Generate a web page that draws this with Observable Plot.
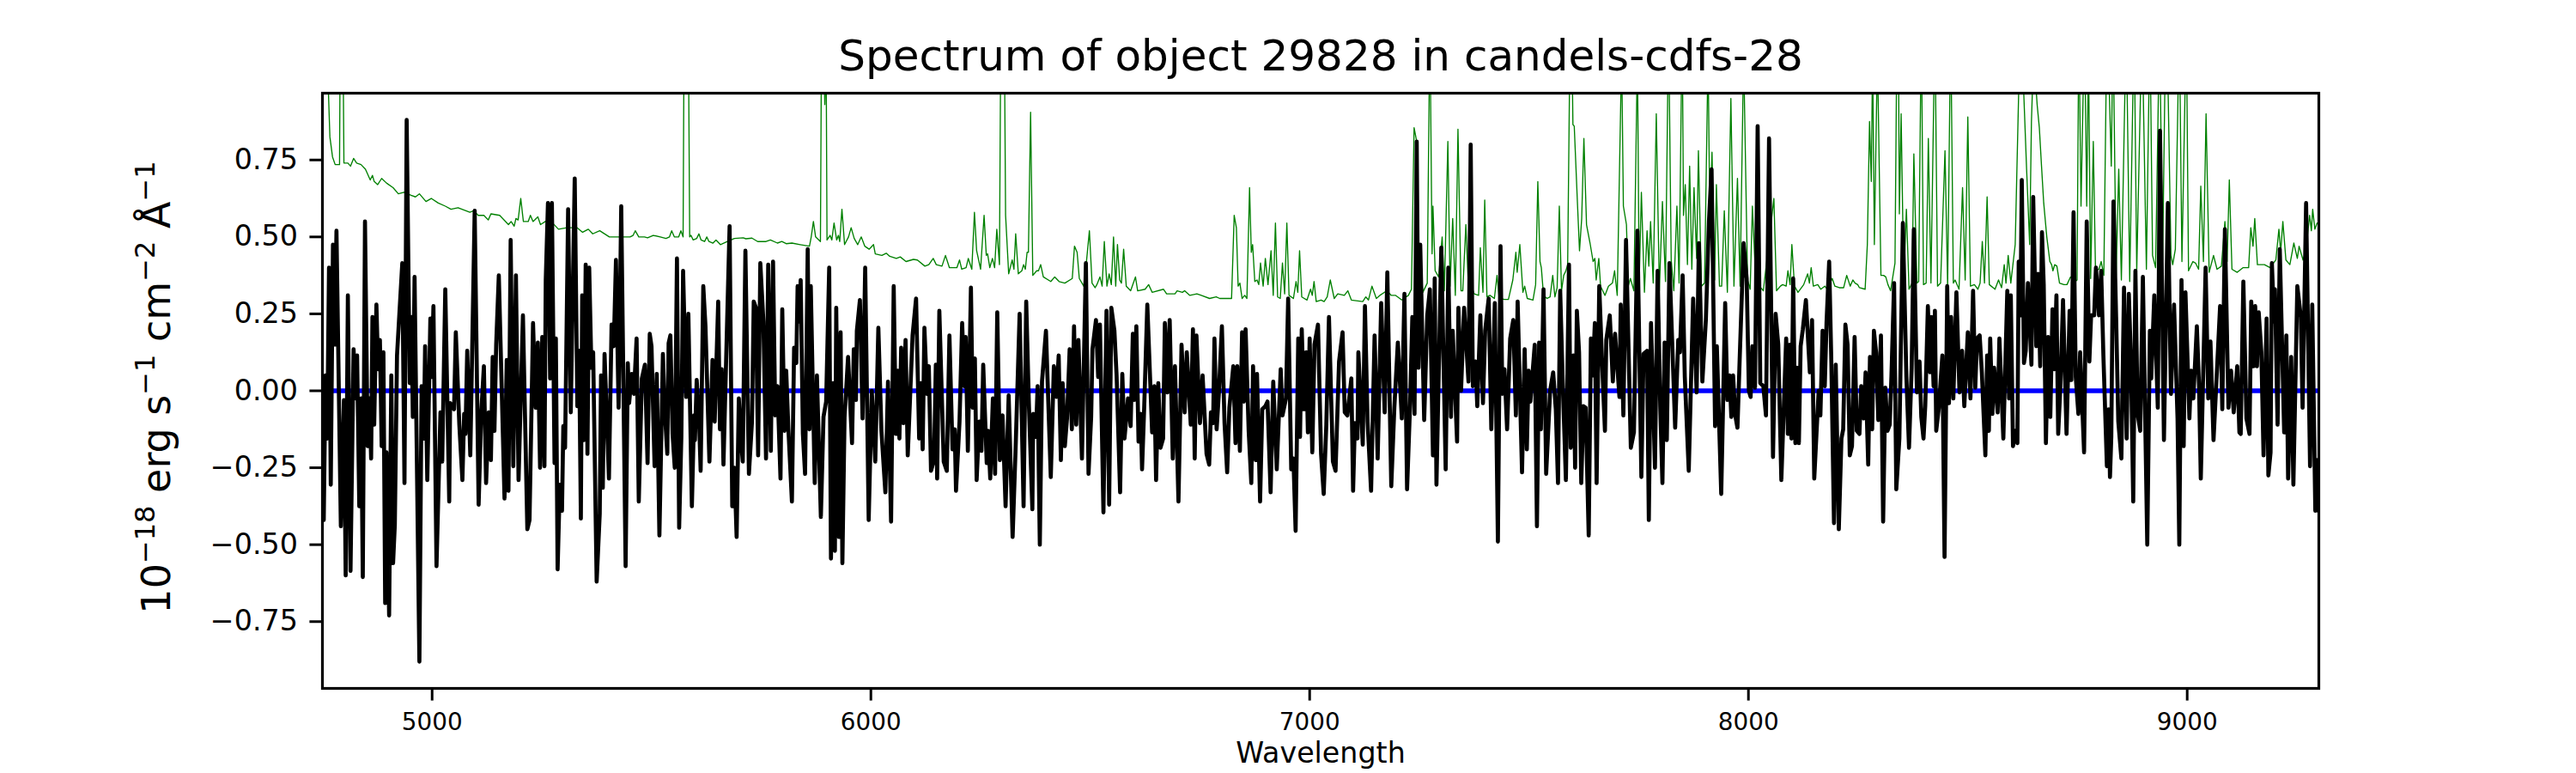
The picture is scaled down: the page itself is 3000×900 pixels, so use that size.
<!DOCTYPE html>
<html>
<head>
<meta charset="utf-8">
<script src="https://cdn.jsdelivr.net/npm/d3@7"></script>
<script src="https://cdn.jsdelivr.net/npm/@observablehq/plot@0.6"></script>
<style>
html,body{margin:0;padding:0;background:#fff}
svg{display:block;font-family:"DejaVu Sans"}
</style>
</head>
<body>
<div id="chart"></div>
<script>
const titleText = "Spectrum of object 29828 in candels-cdfs-28";
const xLabelText = "Wavelength";
const xTicks = [5000, 6000, 7000, 8000, 9000];
const yTicks = [-0.75, -0.5, -0.25, 0, 0.25, 0.5, 0.75];
const zeroLine = [4750, 9300];

// Flux: [wavelength, flux]
const flux1 = [[4753,-.42],[4757,.05],[4761,-.155],[4765,.40],[4769,-.305],[4774,.475],[4778,.15],[4782,.52],[4792,-.44],[4799,-.03],[4803,-.60],[4808,.31],[4814,-.585],[4821,.135],[4826,-.025],[4829,.115],[4834,-.375],[4838,-.025],[4842,-.605],[4847,.55],[4853,-.18],[4857,-.025],[4861,-.22],[4864,.24],[4868,-.11],[4873,.28],[4877,.07],[4881,.165],[4885,-.18],[4889,.125],[4893,-.69],[4896,-.20],[4902,-.73],[4907,.05],[4911,-.56],[4915,-.435],[4920,.115],[4925,.24],[4932,.415],[4937,-.30],[4942,.88],[4949,.025],[4953,.24],[4956,-.085],[4960,.37],[4971,-.88],[4976,.015],[4981,-.155],[4984,.145],[4989,-.29],[4996,.235],[4999,.045],[5003,.275],[5010,-.57],[5019,-.07],[5023,-.23],[5030,.33],[5039,-.36],[5041,-.04],[5050,-.06],[5054,.19],[5062,-.11],[5069,-.29],[5073,-.075],[5076,-.14],[5080,.13],[5087,-.21],[5097,.585],[5106,-.37],[5112,-.07],[5118,.08],[5123,-.30],[5129,-.07],[5134,-.225],[5138,.11],[5142,-.13],[5146,.15],[5152,.375],[5165,-.35],[5170,.10],[5174,-.325],[5179,.49],[5185,-.245],[5191,.375],[5197,-.29],[5207,.245],[5217,-.45],[5222,-.42],[5230,.22],[5236,-.055],[5241,.157],[5246,-.25],[5251,.175],[5256,-.245],[5259,.36],[5264,.61],[5269,.04],[5273,.61],[5279,-.235],[5282,.17],[5286,-.58],[5291,-.305],[5296,-.39],[5299,-.115],[5303,-.185],[5310,.59],[5316,-.07],[5325,.69],[5331,-.05],[5335,.13],[5339,-.415],[5342,.31],[5346,-.16],[5350,.41],[5354,-.205],[5358,.40],[5363,.075],[5367,.125],[5375,-.62],[5382,-.40],[5385,.05],[5389,-.315],[5393,.12]];
const flux2 = [[5403,-.285],[5409,.215],[5414,.145],[5419,.425],[5425,-.055],[5431,.60],[5441,-.57],[5446,.09],[5449,-.04],[5455,.055],[5460,-.01],[5466,.17],[5471,-.36],[5478,.04],[5485,.085],[5491,-.235],[5496,.185],[5500,.145],[5507,-.245],[5512,.055],[5518,-.47],[5526,.12],[5530,-.06],[5536,-.205],[5539,.155],[5543,.18],[5548,-.14],[5553,-.25],[5558,.43],[5563,-.445],[5568,-.15],[5572,.39],[5579,-.02],[5584,.25],[5592,-.375],[5597,-.08],[5599,-.16],[5603,.035],[5608,-.075],[5612,-.26],[5618,.34],[5623,.21],[5632,-.23],[5639,.10],[5644,-.10],[5652,.29],[5656,-.125],[5660,.07],[5664,-.24],[5670,.095],[5678,.535],[5684,-.375],[5689,-.25],[5694,-.475],[5699,-.025],[5704,-.16],[5708,-.23],[5714,.455],[5722,-.27],[5729,-.10],[5733,.29],[5738,.27],[5743,-.21],[5748,.415],[5755,.225],[5761,-.22],[5766,.41],[5772,-.195],[5777,.42],[5782,-.08],[5787,.015],[5794,-.285],[5798,.265],[5803,-.13],[5807,.065],[5812,-.125],[5820,-.36],[5825,.14],[5830,.09],[5833,.34],[5836,.225],[5840,.36],[5845,-.14],[5850,-.27],[5856,.46],[5860,-.125],[5863,.34],[5872,-.30],[5877,.05],[5886,-.41],[5892,-.085],[5898,-.035],[5905,.40],[5909,-.545],[5914,.025],[5918,-.52],[5921,.27],[5927,-.475],[5931,.19],[5935,-.56],[5940,-.085],[5948,.11],[5957,-.17],[5961,.135],[5966,-.03],[5968,.195],[5975,.295],[5981,-.09],[5987,.40],[5995,-.42],[6002,0],[6010,-.23],[6017,.205],[6024,-.13],[6033,-.33],[6039,.03],[6046,-.425],[6052,.34],[6057,-.14],[6061,.065]];
const flux3 = [[6065,-.155],[6069,.14],[6074,-.105],[6079,.165],[6084,-.21],[6095,.18],[6103,.30],[6110,-.155],[6114,.025],[6118,-.19],[6122,.205],[6128,-.01],[6132,.08],[6137,-.26],[6144,-.225],[6148,.085],[6151,-.285],[6156,.26],[6166,-.23],[6173,-.26],[6179,.18],[6186,-.19],[6191,-.125],[6194,-.325],[6202,-.10],[6208,.22],[6213,.015],[6216,.175],[6221,-.195],[6228,.335],[6232,-.055],[6237,.105],[6241,-.29],[6247,-.10],[6252,-.195],[6256,.085],[6264,-.235],[6267,-.13],[6272,-.285],[6278,-.025],[6283,-.27],[6288,.255],[6294,-.225],[6300,-.08],[6307,-.375],[6314,-.015],[6323,-.475],[6330,-.18],[6339,.25],[6348,-.375],[6354,.29],[6360,-.04],[6368,-.385],[6370,-.075],[6376,-.15],[6380,.015],[6385,-.50],[6390,.03],[6399,.195],[6410,-.28],[6417,.08],[6423,-.02],[6428,.115],[6433,-.225],[6437,.025],[6442,-.18],[6447,-.09],[6453,.135],[6458,-.125],[6463,.21],[6468,-.11],[6473,.165],[6481,-.22],[6490,.415],[6496,-.27],[6502,-.085],[6505,.135],[6513,.23],[6518,.045],[6522,.215],[6530,-.395],[6537,.26],[6543,-.37],[6548,.27],[6555,.195],[6560,.05],[6568,-.33],[6573,.055],[6578,-.155],[6586,-.025],[6592,-.115],[6597,.185],[6600,-.03],[6605,.21],[6610,-.165],[6615,-.075],[6618,-.255],[6623,-.05],[6630,.28],[6641,-.135],[6646,.015],[6650,-.29],[6655,.025],[6660,-.185],[6666,-.155],[6670,.22],[6676,-.005],[6681,.23],[6688,-.22],[6693,.08],[6701,-.36],[6708,.15]];
const flux4 = [[6715,-.07],[6720,.125],[6729,-.11],[6734,.20],[6738,-.22],[6742,.18],[6750,-.105],[6756,.05],[6765,-.205],[6771,-.24],[6775,-.07],[6780,-.105],[6783,.17],[6788,-.125],[6793,-.01],[6800,.21],[6806,-.105],[6812,-.265],[6817,-.055],[6826,.08],[6831,-.17],[6835,.08],[6841,-.195],[6846,.19],[6850,-.035],[6854,.20],[6861,-.13],[6867,-.30],[6871,.08],[6877,-.225],[6880,.055],[6887,-.36],[6892,-.06],[6899,-.05],[6904,-.035],[6911,-.33],[6917,.03],[6925,-.255],[6934,.07],[6938,-.08],[6946,-.025],[6951,.30],[6958,-.255],[6963,-.22],[6968,-.455],[6974,.17],[6978,-.15],[6982,.20],[6987,-.06],[6992,.125],[6996,-.135],[7000,.17],[7006,-.20],[7011,.15],[7019,.215],[7026,-.205],[7032,-.335],[7038,-.11],[7044,.24],[7053,-.23],[7059,-.26],[7067,.095],[7075,.19],[7080,-.07],[7086,-.08],[7095,.04],[7099,-.325],[7103,-.105],[7109,-.155],[7111,.125],[7121,-.175],[7126,.275],[7132,-.10],[7140,-.325],[7148,.18],[7155,-.22],[7163,.285],[7171,-.07],[7177,.385],[7186,-.31],[7193,-.055],[7201,.157],[7210,-.09],[7216,.315],[7222,-.32],[7229,-.04],[7234,.24],[7239,-.075],[7244,.81],[7248,.075],[7252,.475],[7261,-.095],[7268,.245],[7274,.33],[7281,-.21],[7285,.365],[7289,-.305],[7300,.465],[7310,-.255],[7316,.40],[7322,-.085],[7326,.195],[7336,-.165],[7339,.27],[7345,0],[7352,.27],[7362,.03],[7367,.80],[7372,.015]];
const flux5 = [[7378,.095],[7382,-.05],[7389,.245],[7395,-.04],[7400,.195],[7408,.30],[7414,-.125],[7422,.285],[7429,-.49],[7435,.47],[7439,-.01],[7444,.07],[7450,-.125],[7457,.17],[7464,.23],[7470,-.08],[7474,.29],[7484,-.265],[7490,.135],[7495,-.19],[7499,.065],[7503,-.035],[7513,.15],[7518,-.44],[7523,.157],[7527,-.125],[7533,.33],[7539,-.27],[7548,0],[7555,.06],[7561,-.06],[7566,-.30],[7571,.325],[7577,.015],[7584,-.29],[7591,.41],[7595,-.185],[7601,.115],[7605,-.25],[7609,.26],[7614,.125],[7619,-.30],[7624,-.05],[7629,-.055],[7636,-.47],[7641,.17],[7645,.05],[7650,.22],[7654,-.30],[7660,.34],[7666,.11],[7673,-.13],[7676,.165],[7684,.245],[7691,.03],[7696,.185],[7706,-.02],[7709,.28],[7715,-.08],[7721,.49],[7732,-.185],[7739,-.135],[7747,.52],[7756,-.28],[7761,.12],[7769,.13],[7773,-.42],[7778,.22],[7787,-.25],[7793,.39],[7799,-.05],[7804,-.30],[7809,.157],[7814,-.16],[7820,.415],[7833,-.12],[7840,.165],[7844,.125],[7850,.375],[7855,.045],[7864,-.26],[7874,.30],[7882,-.005],[7887,.48],[7895,.03],[7903,.23],[7910,.55],[7916,.72],[7924,-.115],[7928,.145],[7938,-.335],[7947,.285],[7952,-.03],[7957,.05],[7961,-.085],[7965,.05],[7970,-.08],[7975,-.12],[7980,.10],[7989,.48],[7996,.365],[8001,0],[8005,-.02],[8009,.145],[8015,.01],[8021,.86],[8027,.025]];
const flux6 = [[8034,.015],[8040,-.08],[8047,.82],[8056,-.215],[8062,.25],[8068,.15],[8075,-.29],[8086,.17],[8090,-.14],[8094,.15],[8098,-.155],[8102,.365],[8107,-.17],[8111,.075],[8115,-.17],[8119,.145],[8124,.20],[8131,.295],[8140,.06],[8145,.23],[8150,-.285],[8160,0],[8164,-.08],[8169,.195],[8174,.015],[8178,.22],[8184,.42],[8189,.09],[8195,-.43],[8199,.085],[8206,-.45],[8212,-.155],[8216,-.125],[8221,.215],[8226,.15],[8231,-.21],[8236,-.18],[8242,.175],[8247,-.13],[8253,-.14],[8257,.015],[8263,-.09],[8267,.06],[8273,-.24],[8277,.11],[8282,-.125],[8286,.195],[8291,.125],[8296,-.095],[8302,.18],[8307,-.425],[8312,.01],[8317,-.13],[8322,-.11],[8326,.05],[8332,.35],[8337,-.32],[8344,-.155],[8352,.545],[8360,.045],[8366,-.185],[8372,.075],[8377,.525],[8384,-.005],[8390,.095],[8394,-.085],[8399,-.155],[8403,-.05],[8409,.275],[8414,.06],[8417,.24],[8422,.015],[8425,.26],[8428,-.13],[8434,-.055],[8442,.115],[8447,-.54],[8453,.34],[8457,-.04],[8462,.24],[8467,-.025],[8474,.32],[8481,-.005],[8487,.13],[8492,-.05],[8500,.19],[8506,-.025],[8512,.325],[8517,.01],[8521,.17],[8527,.18],[8532,.06],[8540,-.21],[8544,.115],[8548,-.13],[8551,.17],[8556,-.075],[8560,.075],[8568,-.07],[8572,.17],[8581,-.155],[8590,.325],[8594,-.025],[8598,.31],[8603,-.18],[8608,-.13],[8613,-.17],[8616,.42],[8620,.245],[8623,.685],[8628,.09],[8632,.13],[8637,.35],[8645,.085],[8649,.63],[8656,.145],[8660,.38],[8665,.08],[8669,.515],[8673,.345],[8678,-.17],[8683,.175]];
const flux7 = [[8688,-.085],[8693,.265],[8697,.07],[8702,.31],[8706,-.14],[8711,.015],[8717,.295],[8725,-.14],[8732,.26],[8736,.035],[8741,.58],[8746,.045],[8752,-.075],[8756,.125],[8765,-.20],[8771,.55],[8777,.095],[8781,.245],[8788,.245],[8792,.40],[8799,.245],[8804,.39],[8809,.115],[8817,-.245],[8821,-.06],[8824,-.28],[8827,-.15],[8832,.615],[8838,.24],[8843,-.10],[8850,-.22],[8856,.335],[8862,-.155],[8867,.315],[8872,.09],[8877,-.36],[8882,.39],[8887,-.075],[8893,-.13],[8899,.37],[8909,-.50],[8915,.195],[8918,.04],[8925,.31],[8933,-.055],[8938,.845],[8947,-.16],[8956,.61],[8963,-.01],[8970,.28],[8978,-.09],[8982,-.50],[8987,.36],[8992,-.18],[8996,.32],[9005,-.09],[9009,.065],[9014,-.025],[9022,.21],[9027,.015],[9031,-.285],[9042,.40],[9048,-.025],[9053,.16],[9060,-.16],[9069,.10],[9075,.275],[9080,-.06],[9086,.525],[9094,-.055],[9100,.065],[9106,-.07],[9114,.08],[9119,-.135],[9122,-.14],[9128,.355],[9135,-.09],[9142,-.14],[9146,.29],[9151,.08],[9155,.275],[9159,.08],[9163,.255],[9169,.125],[9174,-.21],[9181,.235],[9185,-.275],[9190,-.20],[9193,.415],[9198,.225],[9200,.33],[9206,-.11],[9211,.46],[9221,-.135],[9226,.18],[9230,-.285],[9237,.11],[9242,-.305],[9251,.34],[9259,.24],[9263,-.055],[9271,.61],[9280,-.245],[9285,.28],[9292,-.39],[9297,-.225],[9299,-.39]];

// Noise: [wavelength, noise]; peaks past the frame are clipped
const noise1 = [[4750,1.4],[4763,1.0],[4767,.825],[4773,.76],[4779,.735],[4789,.735],[4791,1.3],[4796,1.3],[4799,.74],[4808,.74],[4814,.73],[4821,.755],[4828,.74],[4838,.735],[4848,.72],[4859,.685],[4864,.70],[4868,.68],[4876,.67],[4885,.69],[4896,.675],[4911,.66],[4923,.64],[4936,.645],[4952,.635],[4962,.63],[4971,.64],[4986,.615],[4998,.625],[5014,.61],[5030,.60],[5043,.59],[5059,.595],[5086,.58],[5095,.585],[5105,.57],[5118,.57],[5128,.555],[5134,.575],[5154,.57],[5174,.54],[5180,.55],[5187,.535],[5191,.56],[5196,.555],[5202,.625],[5208,.55],[5219,.55],[5224,.57],[5230,.55],[5241,.565],[5247,.54],[5258,.55],[5268,.555],[5288,.525],[5307,.53],[5330,.53],[5343,.515],[5356,.525],[5366,.51],[5382,.52],[5404,.50]];
const noise2 = [[5409,.50],[5429,.50],[5451,.50],[5458,.505],[5463,.52],[5471,.50],[5484,.50],[5491,.497],[5504,.505],[5520,.50],[5533,.495],[5541,.50],[5546,.52],[5552,.50],[5562,.50],[5567,.52],[5572,.50],[5575,1.4],[5583,1.4],[5587,.50],[5590,.505],[5595,.49],[5603,.495],[5608,.51],[5613,.49],[5621,.485],[5626,.50],[5631,.485],[5640,.48],[5647,.49],[5657,.475],[5673,.485],[5689,.495],[5709,.497],[5715,.494],[5729,.496],[5742,.485],[5761,.485],[5771,.49],[5787,.48],[5797,.485],[5807,.478],[5820,.48],[5839,.475],[5860,.47],[5864,.50],[5869,.55],[5874,.50],[5885,.485],[5888,1.3],[5893,1.1],[5895,.93],[5898,1.1],[5900,.49],[5907,.505],[5911,.49],[5916,.545],[5922,.49],[5926,.505],[5929,.485],[5934,.59],[5940,.475],[5949,.50],[5955,.53],[5962,.495],[5970,.475],[5978,.50],[5986,.47],[5996,.46],[6006,.475],[6010,.445],[6025,.44],[6035,.447],[6043,.437],[6058,.43]];
const noise3 = [[6067,.435],[6080,.42],[6097,.427],[6106,.425],[6123,.405],[6132,.41],[6142,.43],[6149,.41],[6162,.405],[6170,.44],[6179,.40],[6196,.40],[6202,.425],[6207,.395],[6217,.40],[6222,.43],[6230,.395],[6236,.58],[6241,.455],[6250,.395],[6258,.57],[6263,.44],[6266,.445],[6271,.40],[6277,.43],[6282,.40],[6287,.525],[6293,.41],[6297,1.4],[6303,1.4],[6307,.57],[6314,.38],[6322,.425],[6326,.395],[6330,.51],[6336,.38],[6344,.39],[6348,.41],[6352,.395],[6356,.45],[6359,.45],[6364,.905],[6369,.375],[6378,.39],[6382,.39],[6387,.41],[6393,.37],[6410,.355],[6419,.37],[6429,.355],[6442,.35],[6459,.365],[6464,.47],[6470,.45],[6475,.365],[6485,.34],[6490,.40],[6498,.52],[6504,.35],[6511,.335],[6515,.345],[6522,.37],[6527,.34],[6532,.485],[6538,.34],[6543,.38],[6548,.345],[6553,.50],[6558,.34],[6562,.475],[6567,.36],[6571,.35],[6576,.46],[6582,.34],[6592,.325],[6603,.37],[6608,.325],[6625,.33],[6633,.345],[6641,.32],[6667,.33],[6674,.315],[6693,.315],[6698,.325],[6710,.32],[6715,.325]];
const noise4 = [[6727,.31],[6743,.315],[6753,.31],[6772,.30],[6787,.305],[6795,.30],[6822,.30],[6828,.57],[6833,.53],[6837,.34],[6841,.35],[6846,.30],[6852,.31],[6857,.30],[6863,.66],[6867,.45],[6870,.475],[6875,.355],[6880,.36],[6884,.345],[6888,.415],[6894,.34],[6899,.43],[6905,.345],[6912,.455],[6917,.31],[6922,.545],[6927,.305],[6933,.30],[6938,.415],[6943,.315],[6948,.545],[6953,.31],[6963,.30],[6969,.355],[6973,.32],[6977,.455],[6982,.305],[6994,.295],[7002,.33],[7006,.31],[7010,.355],[7015,.29],[7026,.295],[7033,.29],[7040,.305],[7047,.36],[7056,.30],[7064,.315],[7079,.31],[7087,.325],[7095,.295],[7121,.29],[7128,.305],[7134,.295],[7142,.34],[7152,.30],[7160,.31],[7176,.325],[7186,.31],[7196,.31],[7210,.295],[7225,.31],[7232,.33],[7238,.855],[7244,.81],[7248,.475],[7258,.32],[7268,.35],[7274,1.2],[7279,.445],[7281,.60],[7286,.39],[7294,.37],[7302,.50],[7307,.325],[7315,.81],[7320,.34],[7326,.56],[7332,.31],[7338,.85],[7345,.325],[7349,.325],[7356,.54],[7362,.33],[7369,.34]];
const noise5 = [[7375,.315],[7385,.31],[7389,.465],[7395,.32],[7399,.62],[7404,.305],[7411,.31],[7421,.30],[7427,.375],[7432,.30],[7444,.297],[7453,.297],[7463,.36],[7470,.45],[7473,.385],[7479,.475],[7486,.32],[7490,.34],[7496,.30],[7509,.295],[7515,.345],[7520,.68],[7525,.42],[7528,.40],[7533,.31],[7541,.30],[7548,.305],[7554,.375],[7559,.305],[7564,.335],[7569,.60],[7574,.325],[7579,.375],[7584,.39],[7588,.41],[7593,1.1],[7598,1.1],[7600,.865],[7603,.86],[7610,.62],[7615,.455],[7620,.56],[7625,.82],[7631,.54],[7639,.48],[7646,.42],[7650,.43],[7653,.36],[7659,.43],[7663,.34],[7673,.31],[7681,.34],[7690,.35],[7695,.39],[7701,.31],[7711,1.1],[7715,.60],[7722,.54],[7726,.34],[7731,.365],[7739,.325],[7747,1.1],[7751,.35],[7756,.645],[7763,.32],[7769,.52],[7773,.405],[7777,.55],[7783,.35],[7790,.90],[7797,.325],[7804,.615],[7811,.355],[7818,1.2],[7824,.425],[7830,.325],[7837,.60],[7842,.35],[7849,1.2],[7852,.57],[7856,.67],[7861,.41],[7866,.73],[7871,.395],[7876,.66],[7882,.43],[7886,.78],[7893,.34],[7900,.35],[7908,1.1],[7912,.55],[7917,.775],[7923,.36],[7927,.67],[7934,.34],[7939,.34],[7945,.585],[7952,.32],[7960,.95],[7967,.34],[7975,.69],[7981,.34],[7989,1.1],[7998,.36],[8004,.33],[8009,.60],[8016,.38],[8022,.38]];
const noise6 = [[8025,.34],[8034,.325],[8058,.625],[8064,.325],[8073,.34],[8078,.345],[8086,.34],[8090,.39],[8095,.345],[8099,.475],[8105,.34],[8113,.32],[8126,.345],[8135,.38],[8139,.35],[8143,.40],[8148,.34],[8158,.345],[8165,.33],[8174,.34],[8180,.33],[8191,.365],[8197,.34],[8207,.335],[8217,.335],[8224,.375],[8232,.34],[8238,.36],[8243,.35],[8249,.345],[8253,.335],[8266,.33],[8271,.475],[8276,.875],[8280,.68],[8283,1.1],[8287,.475],[8294,1.1],[8302,.375],[8308,.375],[8313,.37],[8318,.345],[8324,.325],[8334,.415],[8338,1.1],[8342,1.1],[8344,.575],[8348,.90],[8354,.35],[8360,.59],[8366,.33],[8373,.35],[8377,.77],[8384,.35],[8388,.355],[8394,1.2],[8399,.345],[8405,.35],[8410,.82],[8416,.35],[8425,1.2],[8431,.34],[8438,.35],[8448,.78],[8454,.34],[8461,1.2],[8467,.35],[8471,.36],[8480,.33],[8488,.66],[8494,.36],[8500,.89],[8506,.34],[8515,.345],[8523,.33],[8528,.35],[8533,.485],[8538,.35],[8544,.63],[8549,.345],[8562,.33],[8570,.36],[8577,.335],[8583,.41],[8587,.35],[8592,.44],[8598,.35],[8608,.475],[8618,1.1],[8624,1.1],[8634,.72],[8641,.475],[8645,.875],[8650,1.1],[8658,.93],[8663,.855],[8668,.73],[8673,.61],[8680,.50]];
const noise7 = [[8687,.42],[8691,.41],[8694,.39],[8698,.41],[8703,.405],[8709,.35],[8719,.345],[8726,.345],[8734,.37],[8745,.355],[8749,.36],[8753,1.2],[8758,.60],[8766,1.2],[8771,.60],[8775,1.1],[8780,.365],[8786,.81],[8791,.39],[8799,.395],[8804,.42],[8810,.375],[8817,1.2],[8822,1.0],[8827,.73],[8831,1.2],[8838,.375],[8844,.72],[8850,.36],[8861,1.2],[8869,.355],[8879,1.2],[8885,.39],[8897,1.2],[8907,.395],[8915,1.2],[8921,.44],[8928,.40],[8937,1.2],[8944,.425],[8951,1.2],[8955,1.1],[8963,.44],[8967,.41],[8973,.46],[8982,1.2],[8988,.42],[8998,1.2],[9003,.39],[9013,.42],[9019,.415],[9026,.395],[9031,.665],[9037,.42],[9043,.90],[9050,.385],[9060,.44],[9068,.395],[9078,.405],[9086,.55],[9091,.42],[9096,.685],[9102,.395],[9114,.385],[9127,.40],[9140,.40],[9145,.53],[9150,.47],[9154,.56],[9160,.41],[9176,.41],[9189,.40],[9202,.425],[9209,.525],[9213,.45],[9218,.55],[9225,.425],[9234,.41],[9243,.48],[9251,.43],[9255,.47],[9264,.425],[9270,.45],[9279,.57],[9283,.52],[9286,.59],[9291,.525],[9296,.545]];

const flux = [flux1, flux2, flux3, flux4, flux5, flux6, flux7].flat();
const noise = [noise1, noise2, noise3, noise4, noise5, noise6, noise7].flat();

const plot = Plot.plot({
  width: 3000,
  height: 900,
  marginLeft: 375,
  marginRight: 300,
  marginTop: 108,
  marginBottom: 99,
  style: {background: "#fff", fontFamily: "DejaVu Sans", overflow: "visible"},
  x: {domain: [4750, 9300]},
  y: {domain: [-0.967, 0.967]},
  marks: [
    Plot.line(noise, {x: d => d[0], y: d => d[1], stroke: "#008000", strokeWidth: 1.35, clip: "frame", curve: "linear"}),
    Plot.line(zeroLine, {x: d => d, y: () => 0, stroke: "#0000ff", strokeWidth: 5.6, clip: "frame"}),
    Plot.line(flux, {x: d => d[0], y: d => d[1], stroke: "#000", strokeWidth: 4.7, clip: "frame", curve: "linear"}),
    Plot.frame({stroke: "#000", strokeWidth: 3.2}),
    Plot.axisX(xTicks, {anchor: "bottom", tickFormat: "d", label: null, fontSize: 27.8, tickSize: 14.6, tickPadding: 14, strokeWidth: 3, color: "#000"}),
    Plot.axisY(yTicks, {anchor: "left", tickFormat: ".2f", label: null, fontSize: 33.3, tickSize: 14.6, tickPadding: 14, strokeWidth: 3, color: "#000"}),
    Plot.text([titleText], {frameAnchor: "top", text: d => d, fontSize: 50, dy: -62, fill: "#000"}),
    Plot.text([xLabelText], {frameAnchor: "bottom", text: d => d, fontSize: 33.3, dy: 86, fill: "#000"})
  ]
});

// Rotated y label with superscripts, as real text
const svg = d3.select(plot);
const yLabel = svg.append("text")
  .attr("transform", "translate(198,451) rotate(-90)")
  .attr("text-anchor", "middle")
  .attr("font-family", "DejaVu Sans")
  .attr("font-size", 46)
  .attr("fill", "#000");
const parts = [["10",0],["−18",1],[" erg s",0],["−1",1],[" cm",0],["−2",1],[" Å",0],["−1",1]];
for (const [t, sup] of parts) {
  yLabel.append("tspan").attr("font-size", sup ? 32 : 46).attr("baseline-shift", sup ? "18" : null).attr("xml:space", "preserve").style("white-space", "pre").text(t);
}
document.getElementById("chart").append(plot);
</script>
</body>
</html>
